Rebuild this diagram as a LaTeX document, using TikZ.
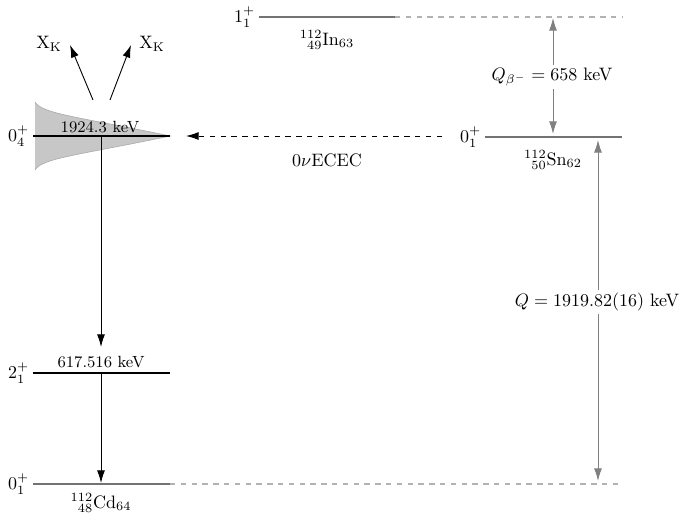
\documentclass[tikz,border=0pt]{standalone}
\usepackage{amsmath}
\usetikzlibrary{arrows.meta}
\begin{document}
\begin{tikzpicture}[x=0.5556pt,y=-0.5556pt,
  lvl/.style={line width=0.6pt,black},
  glvl/.style={line width=0.7pt,black!55},
  ext/.style={line width=0.7pt,black!30,dashed},
  tr/.style={line width=0.5pt,-{Latex[length=7pt,width=4.4pt]}},
  qarr/.style={line width=0.5pt,black!50,{Latex[length=7pt,width=4.4pt]}-{Latex[length=7pt,width=4.4pt]}},
  spin/.style={anchor=east,inner sep=2pt},
  en/.style={font=\small,inner sep=1pt},
  qlab/.style={fill=white,inner sep=1.5pt}]
\useasboundingbox (0,0) rectangle (686,517);
% Cd levels
\coordinate (a1) at (33,136); \coordinate (a2) at (170,136);
\coordinate (b1) at (33,373); \coordinate (b2) at (170,373);
\coordinate (c1) at (33,484); \coordinate (c2) at (170,484); \coordinate (c3) at (623,484);
% In
\coordinate (i1) at (259,17); \coordinate (i2) at (395,17); \coordinate (i3) at (623,17);
% Sn
\coordinate (s1) at (485,137); \coordinate (s2) at (622,137);
% resonance profile
\fill[black!22] (35,102) .. controls (42,114) and (80,117) .. (170,136)
  .. controls (80,155) and (42,158) .. (35,170) -- cycle;
\draw[black!35,line width=0.3pt] (35,102) .. controls (42,114) and (80,117) .. (170,136)
  .. controls (80,155) and (42,158) .. (35,170);
% levels
\draw[lvl] (a1) -- (a2);
\draw[lvl] (b1) -- (b2);
\draw[glvl] (c1) -- (c2);
\draw[ext] (c2) -- (c3);
\draw[glvl] (i1) -- (i2);
\draw[ext] (i2) -- (i3);
\draw[glvl] (s1) -- (s2);
% spin labels
\node[spin] (la) at (a1) {$0_4^+$};
\node[spin] (lb) at (b1) {$2_1^+$};
\node[spin] (lc) at (c1) {$0_1^+$};
\node[spin] (li) at (i1) {$1_1^+$};
\node[spin] (ls) at (s1) {$0_1^+$};
% energies
\node[en] (ea) at (100,127) {1924.3 keV};
\node[en] (eb) at (101,362) {617.516 keV};
% nuclide labels
\node (cd) at (101,503) {$^{112}_{\phantom{1}48}$Cd$_{64}$};
\node (in) at (327,40) {$^{112}_{\phantom{1}49}$In$_{63}$};
\node (sn) at (553,160) {$^{112}_{\phantom{1}50}$Sn$_{62}$};
% transitions
\coordinate (ta) at (101,136); \coordinate (tb) at (101,347);
\coordinate (tb2) at (101,373); \coordinate (tc) at (101,483);
\draw[tr] (ta) -- (tb);
\draw[tr] (tb2) -- (tc);
% X rays
\coordinate (x1s) at (93,100); \coordinate (x1e) at (70,45);
\coordinate (x2s) at (110,100); \coordinate (x2e) at (131,45);
\draw[tr] (x1s) -- (x1e);
\draw[tr] (x2s) -- (x2e);
\node (xk1) at (49,44) {X$_\mathrm{K}$};
\node (xk2) at (152,44) {X$_\mathrm{K}$};
% 0nuECEC
\coordinate (e1) at (442,136); \coordinate (e2) at (186,136);
\draw[tr,dashed] (e1) -- (e2);
\node (ecec) at (327,160) {$0\nu$ECEC};
% Q values
\coordinate (q1a) at (553,18); \coordinate (q1b) at (553,134);
\draw[qarr] (q1a) -- (q1b);
\node[qlab] (qb) at (552,77) {$Q_{\beta^-} = 658~\text{keV}$};
\coordinate (q2a) at (598,140); \coordinate (q2b) at (598,481);
\draw[qarr] (q2a) -- (q2b);
\node[qlab] (qq) at (597,302) {$Q = 1919.82(16)~\text{keV}$};
\end{tikzpicture}
\end{document}
